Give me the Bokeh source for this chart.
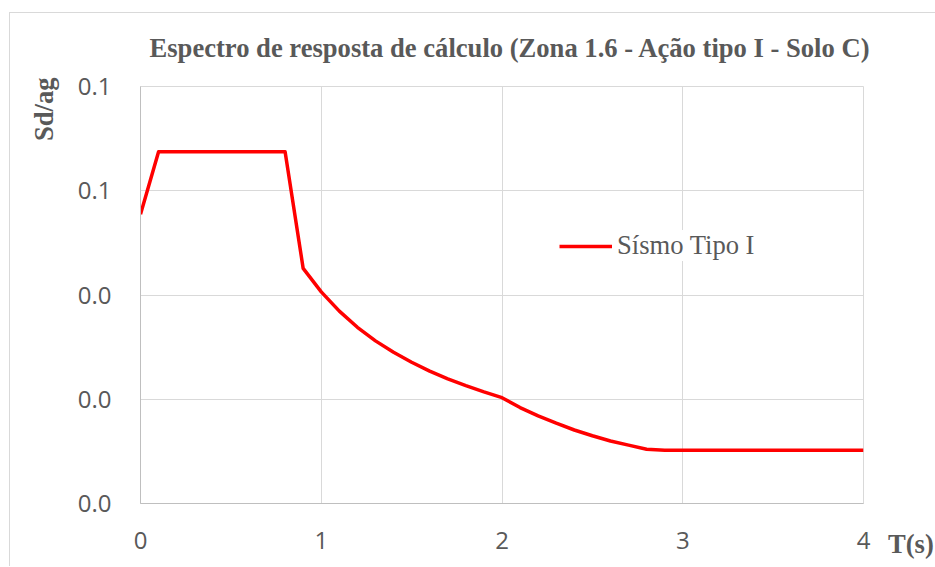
from bokeh.plotting import figure
from bokeh.models import Legend, LegendItem, Range1d, Title, InlineStyleSheet
from bokeh.embed import file_html
from bokeh.resources import INLINE

title_text = "Espectro de resposta de cálculo (Zona 1.6 - Ação tipo I - Solo C)"
series_name = "Sísmo Tipo I"
x_label = "T(s)"
y_label = "Sd/ag"

T = [0.0, 0.1, 0.2, 0.3, 0.4, 0.5, 0.6, 0.7, 0.8, 0.9,
     1.0, 1.1, 1.2, 1.3, 1.4, 1.5, 1.6, 1.7, 1.8, 1.9,
     2.0, 2.1, 2.2, 2.3, 2.4, 2.5, 2.6, 2.7, 2.8, 2.9,
     3.0, 3.1, 3.2, 3.3, 3.4, 3.5, 3.6, 3.7, 3.8, 3.9, 4.0]
Sd = [0.0555, 0.0675, 0.0675, 0.0675, 0.0675, 0.0675, 0.0675, 0.0675, 0.0675, 0.0451,
      0.0406, 0.0369, 0.0338, 0.0312, 0.0290, 0.0271, 0.0254, 0.0239, 0.0226, 0.0214,
      0.0203, 0.0184, 0.0168, 0.0154, 0.0141, 0.0130, 0.0120, 0.0112, 0.0104, 0.0102,
      0.0102, 0.0102, 0.0102, 0.0102, 0.0102, 0.0102, 0.0102, 0.0102, 0.0102, 0.0102, 0.0102]

x_ticks = [0, 1, 2, 3, 4]
y_ticks = [0.0, 0.02, 0.04, 0.06, 0.08]
y_tick_labels = ["0.0", "0.0", "0.0", "0.1", "0.1"]

TEXT = "#595959"
GRID = "#d9d9d9"
SERIF = "Liberation Serif"

p = figure(frame_width=723, frame_height=417,
           x_range=Range1d(0, 4), y_range=Range1d(0, 0.08),
           output_backend="svg", toolbar_location=None,
           min_border_left=140, min_border_right=71,
           min_border_top=86, min_border_bottom=63)
p.background_fill_color = "white"
p.border_fill_color = "white"
p.outline_line_color = GRID

# main title
p.title.text = title_text
p.title.align = "left"
p.title.offset = 9
p.title.standoff = 48
p.title.text_font = SERIF
p.title.text_font_style = "bold"
p.title.text_font_size = "26.6px"
p.title.text_color = TEXT

p.xaxis.ticker = x_ticks
p.yaxis.ticker = y_ticks
p.yaxis.major_label_overrides = {t: l for t, l in zip(y_ticks, y_tick_labels)}
for ax in (p.xaxis, p.yaxis):
    ax.axis_line_color = "#bfbfbf"
    ax.major_tick_line_color = None
    ax.minor_tick_line_color = None
    ax.major_label_text_font = "Open Sans"
    ax.major_label_text_font_size = "24px"
    ax.major_label_text_color = TEXT
p.xaxis.major_label_standoff = 22
p.yaxis.major_label_standoff = 23
p.xgrid.grid_line_color = GRID
p.ygrid.grid_line_color = GRID

# y axis title, at the top end of the axis
p.add_layout(Title(text=y_label, align="right", offset=-9, standoff=31,
                   text_font=SERIF, text_font_style="bold",
                   text_font_size="26.6px", text_color=TEXT), "left")

r = p.line(T, Sd, line_color="#ff0000", line_width=3.5, line_join="round")

legend = Legend(items=[LegendItem(label=series_name, renderers=[r])],
                location=(419, 242), glyph_width=53, glyph_height=30,
                label_height=30, label_standoff=5, padding=7, spacing=0,
                border_line_color=None, background_fill_color="white",
                background_fill_alpha=1.0,
                label_text_font=SERIF, label_text_font_size="26.6px",
                label_text_color=TEXT)
p.add_layout(legend)

# x axis title, beside the last tick label
dummy = p.line(x=[], y=[], line_alpha=0)
xlab = Legend(items=[LegendItem(label=x_label, renderers=[dummy])],
              location=(25, -57), glyph_width=0, glyph_height=30,
              label_height=30, label_standoff=0, padding=0, margin=0, spacing=0,
              border_line_color=None, background_fill_alpha=0,
              label_text_font=SERIF, label_text_font_style="bold",
              label_text_font_size="26.6px", label_text_color=TEXT)
p.add_layout(xlab, "right")

p.stylesheets = [InlineStyleSheet(css=""":host::after {
  content: ""; position: absolute; left: 9px; top: 12px; right: 0; bottom: 0;
  border-left: 1px solid #d9d9d9; border-top: 1px solid #d9d9d9;
  pointer-events: none;
}""")]

open("out.html", "w").write(file_html(p, INLINE))
